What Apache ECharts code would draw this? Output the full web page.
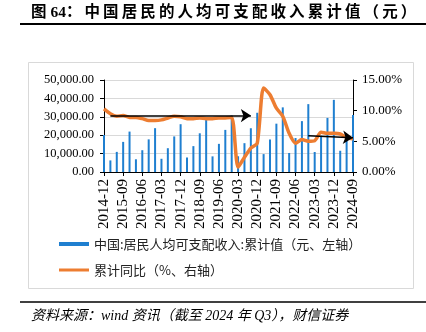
<!DOCTYPE html>
<html><head><meta charset="utf-8">
<script src="https://cdn.jsdelivr.net/npm/echarts@6/dist/echarts.min.js"></script>
<style>html,body{margin:0;padding:0;background:#fff}#c{width:426px;height:332px}</style>
</head><body><div id="c"></div>
<script>
// Quarterly categories 2014-12 .. 2024-09
const categories = [
 '2014-12',
 '2015-03','2015-06','2015-09','2015-12',
 '2016-03','2016-06','2016-09','2016-12',
 '2017-03','2017-06','2017-09','2017-12',
 '2018-03','2018-06','2018-09','2018-12',
 '2019-03','2019-06','2019-09','2019-12',
 '2020-03','2020-06','2020-09','2020-12',
 '2021-03','2021-06','2021-09','2021-12',
 '2022-03','2022-06','2022-09','2022-12',
 '2023-03','2023-06','2023-09','2023-12',
 '2024-03','2024-06','2024-09'
];
// 中国:居民人均可支配收入:累计值 (元)
const incomeValues = [
 20167,
 6301,10931,16367,21966,
 6906,11843,17735,23821,
 7184,12932,19342,25974,
 7815,14063,21035,28228,
 8493,15294,22882,30733,
 8561,15666,23781,32189,
 9730,17642,26265,35128,
 10345,18463,27650,36883,
 10870,19672,29398,39218,
 11539,20733,30941
];
// 累计同比 (%)
const yoyValues = [
 10.3,
 9.5,9.1,9.2,8.9,
 8.9,8.7,8.4,8.4,
 8.5,8.8,9.1,9.0,
 8.7,8.7,8.8,8.7,
 8.7,8.8,8.8,8.9,
 0.8,2.4,3.9,4.7,
 13.7,12.6,10.4,9.1,
 6.3,4.7,5.3,5.0,
 5.1,6.5,6.3,6.3,
 6.2,5.6,5.4
];
// Annotation arrows: [startCategory, startValue, endCategory, endValue]
const arrows = [
 ['2015-03', 9.25, '2020-09', 9.2],
 ['2022-12', 5.9, '2024-09', 5.6]
];
const seriesNames = ['中国:居民人均可支配收入:累计值（元、左轴）', '累计同比（%、右轴）'];
const titleHead = '图 64：';
const titleBody = '中国居民的人均可支配收入累计值（元）';
const sourceText = '资料来源：wind 资讯（截至 2024 年 Q3），财信证券';

const titleText = titleHead + '\u2009' + titleBody.split('').join('\u2009');
const chart = echarts.init(document.getElementById('c'), null, {renderer:'canvas'});
const serif = '"Liberation Serif","Times New Roman",serif';
const cjk = '"Noto Sans CJK SC","Noto Sans",sans-serif';
const legendText = {fontSize:13, fontFamily:cjk, color:'#222', lineHeight:16};
chart.setOption({
  animation:false,
  backgroundColor:'#fff',
  graphic:[
    {type:'text', left:31, top:5, style:{text:titleText, fontSize:15.5, fontWeight:'bold', fontFamily:'"Liberation Serif","Noto Sans CJK SC",serif', fill:'#000'}},
    {type:'line', shape:{x1:20,y1:24,x2:426,y2:24}, style:{stroke:'#000', lineWidth:2}},
    {type:'rect', shape:{x:28.5,y:62.5,width:385,height:226}, style:{fill:null, stroke:'#d9d9d9', lineWidth:1}},
    {type:'line', shape:{x1:20,y1:302,x2:426,y2:302}, style:{stroke:'#000', lineWidth:1.5}},
    {type:'text', left:31, top:309, style:{text:sourceText, fontSize:14, fontStyle:'italic', fontFamily:'"Liberation Serif","Noto Sans CJK SC",serif', fill:'#000'}}
  ],
  legend:[
    {orient:'vertical', left:54, top:231, itemWidth:30, itemHeight:4,
     textStyle:legendText, data:[{name:seriesNames[0], icon:'rect'}]},
    {orient:'vertical', left:54, top:257, itemWidth:30, itemHeight:3,
     textStyle:legendText,
     itemStyle:{borderWidth:0, color:'#ed7d31'}, lineStyle:{width:0},
     data:[{name:seriesNames[1], icon:'rect'}]}
  ],
  grid:{left:104, right:73, top:80, bottom:160, containLabel:false},
  xAxis:{
    type:'category', data:categories, boundaryGap:false,
    axisLine:{lineStyle:{color:'#000', width:1}},
    axisTick:{show:true, interval:2, length:4, lineStyle:{color:'#000'}},
    axisLabel:{interval:2, rotate:90, fontSize:15, fontFamily:serif, color:'#000', margin:7},
    splitLine:{show:false}
  },
  yAxis:[
    {type:'value', min:0, max:50000, interval:10000,
     axisLine:{show:true, lineStyle:{color:'#000'}},
     axisTick:{show:true, length:4, lineStyle:{color:'#000'}},
     axisLabel:{fontSize:12.5, fontFamily:serif, color:'#000', margin:10,
       formatter:v=>v.toLocaleString('en-US',{minimumFractionDigits:2, maximumFractionDigits:2})},
     splitLine:{show:true, lineStyle:{color:'#d9d9d9', width:1}}},
    {type:'value', min:0, max:15, interval:5, position:'right',
     axisLine:{show:true, lineStyle:{color:'#000'}},
     axisTick:{show:true, length:4, lineStyle:{color:'#000'}},
     axisLabel:{fontSize:13, fontFamily:serif, color:'#000', margin:9,
       formatter:v=>v.toFixed(2)+'%'},
     splitLine:{show:false}}
  ],
  series:[
    {name:seriesNames[0], type:'bar', data:incomeValues, barWidth:2, yAxisIndex:0,
     itemStyle:{color:'#1f7fd0'}},
    {name:seriesNames[1], type:'line', data:yoyValues, yAxisIndex:1, symbol:'none', smooth:0.25,
     lineStyle:{color:'#ed7d31', width:3.5}, itemStyle:{color:'#ed7d31'}, z:3,
     markLine:{silent:true, symbol:['none','arrow'], symbolSize:10, label:{show:false},
       lineStyle:{color:'#000', width:1.5, type:'solid'},
       emphasis:{disabled:true},
       data: arrows.map(a=>[{coord:[a[0],a[1]]},{coord:[a[2],a[3]]}])}}
  ]
});
</script></body></html>
